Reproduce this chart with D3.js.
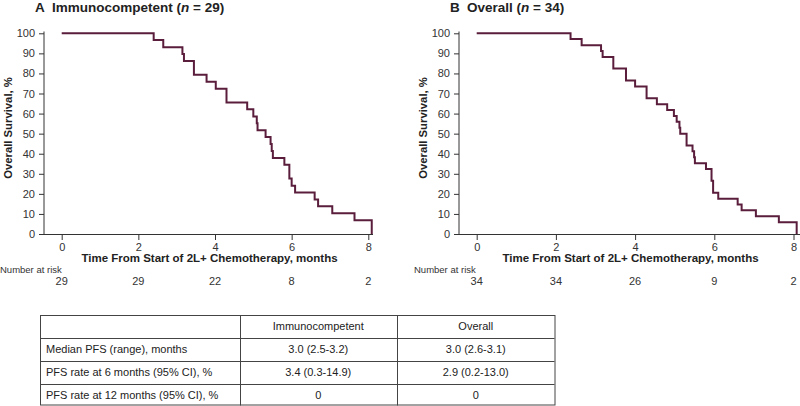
<!DOCTYPE html>
<html>
<head>
<meta charset="utf-8">
<script src="https://cdn.jsdelivr.net/npm/d3@7"></script>
<style>
  html, body { margin: 0; padding: 0; background: #fff; }
  svg { display: block; font-family: Arial, "Liberation Sans", sans-serif; }
</style>
</head>
<body>
<svg id="chart" width="800" height="406"></svg>
<script>
// ---------- data ----------
const monthTicks = [0, 2, 4, 6, 8];
const survTicks = [0, 10, 20, 30, 40, 50, 60, 70, 80, 90, 100];

const atRiskA = [29, 29, 22, 8, 2];
const atRiskB = [34, 34, 26, 9, 2];

// Panel A: Immunocompetent (n = 29) - time of each step (months) and survival after the step (%)
const timeA = [0, 2.40, 2.65, 3.15, 3.19, 3.45, 3.78, 4.02, 4.30, 4.84, 5.00, 5.09, 5.11, 5.32, 5.45, 5.48, 5.51, 5.81, 5.94, 6.00, 6.09, 6.60, 6.69, 7.06, 7.64, 8.09];
const survA = [100, 96.6, 93.1, 89.7, 86.2, 79.3, 75.9, 72.4, 65.5, 62.1, 58.6, 55.2, 51.7, 48.3, 44.8, 41.4, 37.9, 34.5, 27.6, 24.1, 20.7, 17.2, 13.8, 10.3, 6.9, 0];

// Panel B: Overall (n = 34)
const timeB = [0, 2.37, 2.65, 3.14, 3.18, 3.45, 3.77, 4.00, 4.29, 4.55, 4.81, 4.98, 5.05, 5.12, 5.14, 5.30, 5.45, 5.49, 5.51, 5.79, 5.93, 5.97, 6.10, 6.59, 6.69, 7.05, 7.63, 8.08];
const survB = [100, 97.1, 94.1, 91.2, 88.2, 82.4, 76.5, 73.5, 67.6, 64.7, 61.8, 58.8, 55.9, 52.9, 50.0, 44.1, 41.2, 38.2, 35.3, 32.4, 26.5, 20.6, 17.6, 14.7, 11.8, 8.8, 5.9, 0];

// Table
const tableHeader = ["", "Immunocompetent", "Overall"];
const rowLabels = ["Median PFS (range), months", "PFS rate at 6 months (95% CI), %", "PFS rate at 12 months (95% CI), %"];
const immunoValues = ["3.0 (2.5-3.2)", "3.4 (0.3-14.9)", "0"];
const overallValues = ["3.0 (2.6-3.1)", "2.9 (0.2-13.0)", "0"];

// ---------- drawing ----------
const svg = d3.select("#chart");
const lineColor = "#5a1e3c";
const axisColor = "#333";

function panel(cfg) {
  const g = svg.append("g");
  const x = d3.scaleLinear().domain([0, 8]).range([cfg.x0, cfg.x8]);
  const y = d3.scaleLinear().domain([0, 100]).range([234, 33.3]);

  // title
  const t = g.append("text")
    .attr("x", cfg.titleX).attr("y", 12)
    .attr("font-size", 13.5).attr("font-weight", "bold").attr("fill", "#222");
  t.append("tspan").text(cfg.letter);
  t.append("tspan").attr("x", cfg.titleX + 17).text(cfg.name + " (");
  t.append("tspan").attr("font-style", "italic").text("n");
  t.append("tspan").text(" = " + cfg.n + ")");

  // y axis
  const yAxis = g.append("g").attr("transform", `translate(${cfg.axisX},0)`)
    .call(d3.axisLeft(y).tickValues(survTicks).tickSize(5).tickPadding(4));
  yAxis.select(".domain").remove();
  yAxis.append("line").attr("x1", 0).attr("x2", 0).attr("y1", 31.5).attr("y2", 234.5)
    .attr("stroke", axisColor);
  yAxis.selectAll(".tick line").attr("stroke", axisColor);
  yAxis.selectAll(".tick text").attr("font-size", 11).attr("fill", "#333").attr("font-family", "Arial, 'Liberation Sans', sans-serif");

  // x axis
  const xAxis = g.append("g").attr("transform", `translate(0,234)`)
    .call(d3.axisBottom(x).tickValues(monthTicks).tickSize(6).tickPadding(3));
  xAxis.select(".domain").remove();
  xAxis.append("line").attr("x1", cfg.axisX).attr("x2", cfg.axisEnd).attr("y1", 0.5).attr("y2", 0.5)
    .attr("stroke", axisColor);
  xAxis.selectAll(".tick line").attr("stroke", axisColor);
  xAxis.selectAll(".tick text").attr("font-size", 11).attr("fill", "#333").attr("font-family", "Arial, 'Liberation Sans', sans-serif");

  // axis titles
  g.append("text")
    .attr("transform", `translate(${cfg.axisX - 32},128) rotate(-90)`)
    .attr("text-anchor", "middle").attr("font-size", 11.3).attr("font-weight", "bold").attr("fill", "#222")
    .text("Overall Survival, %");
  g.append("text")
    .attr("x", (cfg.axisX + cfg.axisEnd) / 2 + 1).attr("y", 262)
    .attr("text-anchor", "middle").attr("font-size", 11.5).attr("font-weight", "bold").attr("fill", "#222")
    .text("Time From Start of 2L+ Chemotherapy, months");

  // number at risk
  g.append("text").attr("x", cfg.riskX).attr("y", 272.5)
    .attr("font-size", 9.5).attr("fill", "#333").text("Number at risk");
  g.selectAll(".risk").data(cfg.risk).enter().append("text")
    .attr("x", (d, i) => x(monthTicks[i])).attr("y", 285)
    .attr("text-anchor", "middle").attr("font-size", 11).attr("fill", "#333")
    .text(d => d);

  // KM curve
  const pts = cfg.time.map((tt, i) => [tt, cfg.surv[i]]);
  const line = d3.line().x(d => x(d[0])).y(d => y(d[1])).curve(d3.curveStepAfter);
  g.append("path").datum(pts).attr("d", line)
    .attr("fill", "none").attr("stroke", lineColor).attr("stroke-width", 2);
}

panel({ letter: "A", name: "Immunocompetent", n: 29, titleX: 35, axisX: 44, axisEnd: 373,
        x0: 61.7, x8: 368.3, riskX: 0, risk: atRiskA, time: timeA, surv: survA });
panel({ letter: "B", name: "Overall", n: 34, titleX: 450, axisX: 459, axisEnd: 800,
        x0: 476.7, x8: 793.5, riskX: 414, risk: atRiskB, time: timeB, surv: survB });

// ---------- table ----------
const colEdges = [40, 239.5, 397, 554.5];
const rowEdges = [315, 337.5, 360.5, 383.5, 405.5];
const tg = svg.append("g");
const rows = [tableHeader].concat(rowLabels.map((r, i) => [r, immunoValues[i], overallValues[i]]));

tg.append("rect").attr("x", colEdges[0] + 0.5).attr("y", rowEdges[0] + 0.5)
  .attr("width", colEdges[3] - colEdges[0]).attr("height", rowEdges[4] - rowEdges[0] - 1)
  .attr("fill", "none").attr("stroke", "#444").attr("stroke-width", 1);
rowEdges.slice(1, 4).forEach(yy => {
  tg.append("line").attr("x1", colEdges[0]).attr("x2", colEdges[3]).attr("y1", Math.round(yy) + 0.5).attr("y2", Math.round(yy) + 0.5)
    .attr("stroke", "#444");
});
colEdges.slice(1, 3).forEach(xx => {
  tg.append("line").attr("x1", Math.round(xx) + 0.5).attr("x2", Math.round(xx) + 0.5).attr("y1", rowEdges[0]).attr("y2", rowEdges[4])
    .attr("stroke", "#444");
});
rows.forEach((r, ri) => {
  const yMid = (rowEdges[ri] + rowEdges[ri + 1]) / 2;
  r.forEach((txt, ci) => {
    if (!txt) return;
    const isLabel = ci === 0;
    tg.append("text")
      .attr("x", isLabel ? colEdges[0] + 6 : (colEdges[ci] + colEdges[ci + 1]) / 2)
      .attr("y", yMid + 4)
      .attr("text-anchor", isLabel ? "start" : "middle")
      .attr("font-size", 11).attr("fill", "#222")
      .text(txt);
  });
});
</script>
</body>
</html>
